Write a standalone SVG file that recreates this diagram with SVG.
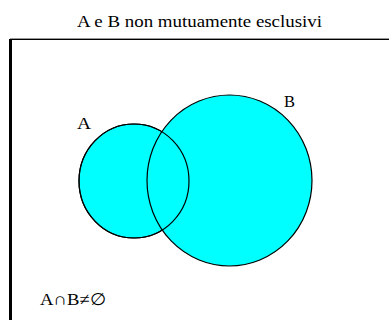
<svg xmlns="http://www.w3.org/2000/svg" width="389" height="320" viewBox="0 0 389 320">
<style>
.lbl{font-family:'Liberation Serif','Times New Roman',serif;font-size:16px;fill:#000}
.set{fill:#00ffff;stroke:#000;stroke-width:1.2}
.outline{fill:none;stroke:#000;stroke-width:1.2}
</style>
<rect width="389" height="320" fill="#fff"/>
<text class="lbl" font-family="Liberation Serif, serif" x="77" y="27" textLength="245" lengthAdjust="spacingAndGlyphs">A e B non mutuamente esclusivi</text>
<g id="frame">
<line x1="10" y1="38.5" x2="389" y2="38.5" stroke="#999" stroke-width="1"/>
<line x1="10" y1="39.5" x2="389" y2="39.5" stroke="#000" stroke-width="1"/>
<line x1="10.5" y1="39" x2="10.5" y2="320" stroke="#000" stroke-width="3"/>
</g>
<g id="A">
<ellipse class="set" cx="134" cy="181" rx="55" ry="57"/>
<text class="lbl" font-family="Liberation Serif, serif" x="77" y="129" textLength="14" lengthAdjust="spacingAndGlyphs">A</text>
</g>
<g id="B">
<ellipse class="set" cx="229.5" cy="180.5" rx="82.5" ry="85.5"/>
<text class="lbl" font-family="Liberation Serif, serif" x="284" y="107" textLength="11" lengthAdjust="spacingAndGlyphs">B</text>
</g>
<g id="connectors">
<ellipse class="outline" cx="134" cy="181" rx="55" ry="57"/>
</g>
<text class="lbl" font-family="Liberation Serif, serif" x="40" y="305" style="font-size:17px" textLength="66" lengthAdjust="spacingAndGlyphs">A∩B≠∅</text>
</svg>
